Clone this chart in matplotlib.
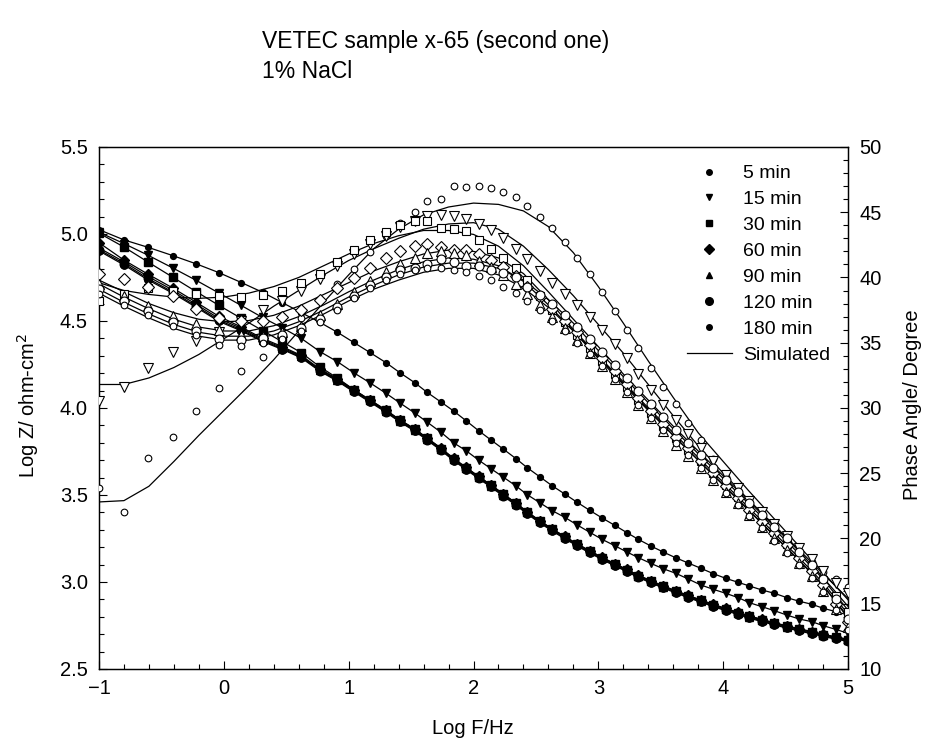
import matplotlib
matplotlib.use("Agg")
import matplotlib.pyplot as plt
from matplotlib.lines import Line2D
from matplotlib.ticker import MultipleLocator

plt.rcParams['font.family'] = ['Liberation Sans', 'DejaVu Sans']

# measured frequencies (log F / Hz), same for every run
logf = [-1.0, -0.80, -0.61, -0.41, -0.22, -0.04, 0.14, 0.31, 0.47, 0.62,
        0.77, 0.91, 1.04, 1.17, 1.30, 1.41, 1.53, 1.63, 1.74, 1.84,
        1.94, 2.04, 2.14, 2.24, 2.34, 2.43, 2.53, 2.63, 2.73, 2.83,
        2.93, 3.03, 3.13, 3.23, 3.32, 3.42, 3.52, 3.62, 3.72, 3.82,
        3.92, 4.02, 4.12, 4.21, 4.31, 4.41, 4.51, 4.61, 4.71, 4.80,
        4.90, 5.0]

labels = ['5 min', '15 min', '30 min', '60 min', '90 min', '120 min', '180 min']

# log |Z| (ohm-cm2)
z_5 = [5.025, 4.966, 4.924, 4.876, 4.828, 4.778, 4.721, 4.665, 4.605, 4.548,
       4.492, 4.435, 4.377, 4.319, 4.26, 4.203, 4.145, 4.089, 4.034, 3.983,
       3.927, 3.87, 3.816, 3.763, 3.709, 3.657, 3.605, 3.553, 3.506, 3.458,
       3.412, 3.368, 3.326, 3.283, 3.245, 3.207, 3.172, 3.139, 3.109, 3.079,
       3.048, 3.021, 2.998, 2.977, 2.954, 2.935, 2.910, 2.889, 2.872, 2.849,
       2.83, 2.81]
z_15 = [5.01, 4.945, 4.879, 4.805, 4.733, 4.661, 4.589, 4.52, 4.46, 4.40,
        4.324, 4.266, 4.203, 4.145, 4.084, 4.029, 3.971, 3.918, 3.86, 3.80,
        3.755, 3.701, 3.651, 3.602, 3.552, 3.502, 3.456, 3.41, 3.372, 3.328,
        3.286, 3.245, 3.209, 3.172, 3.14, 3.107, 3.076, 3.05, 3.017, 2.983,
        2.958, 2.935, 2.91, 2.881, 2.858, 2.835, 2.81, 2.787, 2.772, 2.749,
        2.728, 2.705]
z_30 = [5.005, 4.925, 4.84, 4.752, 4.668, 4.59, 4.515, 4.445, 4.38, 4.318,
        4.236, 4.172, 4.106, 4.045, 3.986, 3.930, 3.878, 3.825, 3.767, 3.709,
        3.657, 3.606, 3.556, 3.504, 3.452, 3.402, 3.351, 3.304, 3.260, 3.218,
        3.178, 3.140, 3.104, 3.070, 3.037, 3.006, 2.976, 2.948, 2.921, 2.895,
        2.870, 2.846, 2.824, 2.803, 2.783, 2.764, 2.746, 2.729, 2.713, 2.698,
        2.683, 2.669]
z_60 = [4.95, 4.85, 4.77, 4.69, 4.607, 4.527, 4.465, 4.40, 4.352, 4.302,
        4.224, 4.167, 4.106, 4.047, 3.988, 3.932, 3.880, 3.827, 3.769, 3.711,
        3.659, 3.608, 3.558, 3.506, 3.454, 3.404, 3.353, 3.306, 3.262, 3.220,
        3.180, 3.142, 3.106, 3.072, 3.039, 3.008, 2.978, 2.950, 2.923, 2.897,
        2.872, 2.848, 2.826, 2.805, 2.785, 2.766, 2.748, 2.731, 2.715, 2.700,
        2.685, 2.671]
z_90 = [4.92, 4.84, 4.757, 4.678, 4.595, 4.515, 4.457, 4.393, 4.346, 4.297,
        4.220, 4.163, 4.102, 4.043, 3.984, 3.928, 3.876, 3.823, 3.765, 3.707,
        3.655, 3.604, 3.554, 3.502, 3.450, 3.400, 3.349, 3.302, 3.258, 3.216,
        3.176, 3.138, 3.102, 3.068, 3.035, 3.004, 2.974, 2.946, 2.919, 2.893,
        2.868, 2.844, 2.822, 2.801, 2.781, 2.762, 2.744, 2.727, 2.711, 2.696,
        2.681, 2.667]
z_120 = [4.91, 4.83, 4.745, 4.667, 4.585, 4.505, 4.449, 4.387, 4.34, 4.292,
         4.215, 4.158, 4.097, 4.038, 3.979, 3.923, 3.871, 3.818, 3.760, 3.702,
         3.650, 3.599, 3.549, 3.497, 3.445, 3.395, 3.344, 3.297, 3.253, 3.211,
         3.171, 3.133, 3.097, 3.063, 3.030, 2.999, 2.969, 2.941, 2.914, 2.888,
         2.863, 2.839, 2.817, 2.796, 2.776, 2.757, 2.739, 2.722, 2.706, 2.691,
         2.676, 2.662]
z_180 = [4.903, 4.822, 4.737, 4.66, 4.578, 4.498, 4.443, 4.382, 4.336, 4.288,
         4.211, 4.154, 4.093, 4.034, 3.975, 3.919, 3.867, 3.814, 3.756, 3.698,
         3.646, 3.595, 3.545, 3.493, 3.441, 3.391, 3.340, 3.293, 3.249, 3.207,
         3.167, 3.129, 3.093, 3.059, 3.026, 2.995, 2.965, 2.937, 2.910, 2.884,
         2.859, 2.835, 2.813, 2.792, 2.772, 2.753, 2.735, 2.718, 2.702, 2.687,
         2.672, 2.658]

# phase angle (degree)
ph_5 = [23.9, 22.0, 26.15, 27.76, 29.77, 31.56, 32.86, 33.93, 35.4, 36.9,
        38.2, 39.5, 40.63, 41.98, 43.2, 44.2, 45.04, 45.89, 45.99, 47.01,
        46.91, 47.04, 46.86, 46.58, 46.19, 45.48, 44.66, 43.77, 42.72, 41.47,
        40.24, 38.86, 37.46, 35.98, 34.57, 33.08, 31.58, 30.28, 28.87, 27.55,
        26.07, 24.72, 23.48, 22.4, 21.4, 20.5, 19.7, 18.9, 18.2, 17.46,
        16.9, 16.3]
ph_15 = [30.5, 31.6, 33.1, 34.3, 35.1, 35.8, 36.7, 37.5, 38.2, 39.0,
         39.9, 40.9, 41.8, 42.6, 43.2, 43.9, 44.3, 44.7, 44.8, 44.7,
         44.5, 44.1, 43.6, 43.0, 42.2, 41.4, 40.5, 39.6, 38.7, 37.9,
         37.0, 36.0, 34.9, 33.8, 32.6, 31.4, 30.2, 29.1, 28.0, 26.9,
         25.9, 24.9, 23.9, 22.9, 22.0, 21.1, 20.2, 19.3, 18.4, 17.5,
         16.6, 15.8]
ph_30 = [38.2, 38.75, 39.2, 39.0, 38.75, 38.55, 38.5, 38.66, 39.0, 39.55,
         40.3, 41.2, 42.1, 42.9, 43.5, 44.0, 44.35, 44.3, 43.8, 43.7,
         43.55, 42.9, 42.2, 41.5, 40.7, 39.8, 38.6, 37.5, 36.6, 35.6,
         34.6, 33.6, 32.6, 31.6, 30.6, 29.6, 28.6, 27.7, 26.8, 25.9,
         25.0, 24.1, 23.2, 22.3, 21.4, 20.5, 19.6, 18.7, 17.8, 16.8,
         15.6, 14.4]
ph_60 = [40.3, 39.9, 39.3, 38.6, 37.6, 36.9, 36.7, 36.7, 37.0, 37.5,
         38.3, 39.2, 39.95, 40.7, 41.5, 42.0, 42.45, 42.55, 42.3, 42.1,
         42.1, 41.8, 41.35, 40.8, 40.1, 39.3, 38.5, 37.6, 36.7, 35.8,
         34.8, 33.8, 32.8, 31.8, 30.8, 29.8, 28.8, 27.8, 26.9, 25.9,
         25.0, 24.0, 23.1, 22.2, 21.3, 20.4, 19.5, 18.5, 17.5, 16.4,
         15.0, 13.6]
ph_90 = [39.5, 38.6, 37.85, 37.05, 36.4, 35.95, 35.6, 35.5, 35.8, 36.3,
         37.1, 38.0, 38.9, 39.7, 40.4, 41.0, 41.5, 41.9, 42.0, 41.9,
         41.7, 41.3, 40.8, 40.2, 39.5, 38.7, 37.9, 37.0, 36.1, 35.2,
         34.2, 33.2, 32.2, 31.2, 30.2, 29.2, 28.2, 27.2, 26.3, 25.4,
         24.5, 23.6, 22.7, 21.8, 20.9, 20.0, 19.1, 18.1, 17.1, 16.0,
         14.6, 13.2]
ph_120 = [39.1, 38.2, 37.4, 36.6, 35.9, 35.3, 35.2, 35.4, 35.6, 36.1,
          36.8, 37.7, 38.6, 39.4, 40.0, 40.55, 40.7, 41.0, 41.4, 41.2,
          40.85, 40.85, 40.55, 40.35, 40.0, 39.3, 38.65, 37.95, 37.1, 36.2,
          35.3, 34.3, 33.3, 32.3, 31.3, 30.3, 29.3, 28.3, 27.3, 26.4,
          25.4, 24.5, 23.6, 22.7, 21.8, 20.9, 20.0, 19.0, 18.0, 16.9,
          15.4, 13.8]
ph_180 = [38.7, 37.9, 37.1, 36.3, 35.6, 34.85, 34.75, 35.0, 35.3, 35.9,
          36.6, 37.5, 38.4, 39.2, 39.8, 40.3, 40.6, 40.7, 40.7, 40.6,
          40.4, 40.1, 39.8, 39.3, 38.8, 38.2, 37.5, 36.7, 35.9, 35.0,
          34.1, 33.2, 32.2, 31.2, 30.2, 29.2, 28.3, 27.3, 26.4, 25.4,
          24.5, 23.5, 22.6, 21.7, 20.8, 19.8, 18.9, 18.0, 17.0, 15.9,
          14.5, 13.0]

# simulated phase curves
sim_f = [-1.0, -0.8, -0.6, -0.4, -0.2, 0.0, 0.2, 0.4, 0.6, 0.8,
         1.0, 1.2, 1.4, 1.6, 1.8, 2.0, 2.2, 2.4, 2.6, 2.8,
         3.0, 3.2, 3.4, 3.6, 3.8, 4.0, 4.2, 4.4, 4.6, 4.8, 5.0]
sim_5 = [22.8, 22.9, 24.0, 25.9, 27.9, 29.8, 31.7, 33.7, 35.9, 38.1,
         40.2, 42.2, 43.7, 44.8, 45.4, 45.7, 45.6, 45.1, 43.9, 41.9,
         39.3, 36.5, 33.6, 30.8, 28.1, 25.9, 23.7, 21.6, 19.5, 17.4, 15.3]
sim_15 = [31.8, 31.8, 32.3, 33.1, 34.1, 35.3, 36.5, 37.8, 39.0, 40.2,
          41.3, 42.2, 43.0, 43.7, 44.1, 44.2, 43.7, 42.4, 40.6, 38.6,
          36.4, 34.2, 31.8, 29.4, 27.1, 25.0, 23.0, 21.1, 19.2, 17.3, 15.4]
sim_30 = [39.6, 39.0, 38.7, 38.5, 38.4, 38.5, 38.8, 39.3, 40.0, 40.9,
          41.8, 42.6, 43.2, 43.6, 43.6, 43.3, 42.4, 40.9, 38.9, 36.8,
          34.7, 32.6, 30.6, 28.6, 26.7, 24.8, 22.9, 21.0, 19.1, 17.0, 14.8]
sim_60 = [39.8, 38.9, 38.0, 37.3, 36.8, 36.6, 36.7, 37.1, 37.8, 38.7,
          39.6, 40.5, 41.2, 41.8, 42.1, 42.0, 41.5, 40.3, 38.3, 36.0,
          34.0, 32.0, 30.0, 28.1, 26.2, 24.3, 22.4, 20.5, 18.6, 16.6, 14.2]
sim_90 = [39.5, 38.5, 37.6, 36.8, 36.2, 35.9, 35.9, 36.3, 37.0, 37.9,
          38.9, 39.8, 40.6, 41.2, 41.5, 41.4, 40.9, 39.7, 37.9, 35.9,
          33.8, 31.8, 29.8, 27.9, 26.0, 24.1, 22.2, 20.3, 18.4, 16.4, 14.0]
sim_120 = [39.1, 38.1, 37.2, 36.4, 35.8, 35.5, 35.5, 35.9, 36.6, 37.5,
           38.5, 39.4, 40.2, 40.8, 41.1, 41.1, 40.7, 39.8, 38.3, 36.5,
           34.4, 32.4, 30.4, 28.4, 26.5, 24.6, 22.7, 20.8, 18.9, 16.9, 14.5]
sim_180 = [38.8, 37.8, 36.9, 36.1, 35.5, 35.2, 35.2, 35.6, 36.3, 37.2,
           38.2, 39.1, 39.8, 40.4, 40.7, 40.7, 40.2, 39.2, 37.7, 35.9,
           33.9, 31.9, 29.9, 27.9, 26.0, 24.1, 22.2, 20.3, 18.4, 16.4, 13.9]

z_all = [z_5, z_15, z_30, z_60, z_90, z_120, z_180]
ph_all = [ph_5, ph_15, ph_30, ph_60, ph_90, ph_120, ph_180]
sim_all = [sim_5, sim_15, sim_30, sim_60, sim_90, sim_120, sim_180]

# marker style per run: (marker, size for |Z|, size for phase, legend size)
styles = [('o', 4.2, 4.8, 4.0), ('v', 6.2, 6.8, 5.0), ('s', 5.2, 6.2, 4.5),
          ('D', 4.8, 5.8, 4.6), ('^', 6.2, 6.8, 5.0), ('o', 6.2, 6.4, 5.5),
          ('o', 5.2, 4.8, 4.0)]

fig = plt.figure(figsize=(9.31, 7.51), dpi=100)
ax = fig.add_axes([0.1063, 0.1092, 0.8046, 0.6951])
ax2 = ax.twinx()

for z, ph, sim, st in zip(z_all, ph_all, sim_all, styles):
    m, ms_z, ms_p, _ = st
    ax.plot(logf, z, '-', color='black', lw=0.9, zorder=2)
    ax.plot(logf, z, linestyle='none', marker=m, ms=ms_z, color='black',
            mec='black', mfc='black', zorder=3)
    ax2.plot(sim_f, sim, '-', color='black', lw=0.9, zorder=2)
    ax2.plot(logf, ph, linestyle='none', marker=m, ms=ms_p, mfc='white',
             mec='black', mew=0.8, zorder=3)

ax.set_xlim(-1, 5)
ax.set_ylim(2.5, 5.5)
ax2.set_ylim(10, 50)

ax.xaxis.set_major_locator(MultipleLocator(1))
ax.xaxis.set_minor_locator(MultipleLocator(0.2))
ax.yaxis.set_major_locator(MultipleLocator(0.5))
ax.yaxis.set_minor_locator(MultipleLocator(0.1))
ax2.yaxis.set_major_locator(MultipleLocator(5))
ax2.yaxis.set_minor_locator(MultipleLocator(1))
ax.yaxis.set_major_formatter(plt.FormatStrFormatter('%.1f'))

ax.tick_params(which='both', direction='in', top=False, right=False,
               labelsize=14.5, width=0.8)
ax.tick_params(which='major', length=6)
ax.tick_params(which='minor', length=3.5)
ax.tick_params(axis='y', pad=8)
ax.tick_params(axis='x', pad=7)
ax2.tick_params(which='both', direction='in', labelsize=14.5, width=0.8, pad=8)
ax2.tick_params(which='major', length=6)
ax2.tick_params(which='minor', length=3.5)
for sp in list(ax.spines.values()) + list(ax2.spines.values()):
    sp.set_linewidth(0.9)

# legend
handles = [Line2D([], [], linestyle='none', marker=st[0], ms=st[3],
                  color='black') for st in styles]
handles.append(Line2D([], [], color='black', lw=0.9))
ax2.legend(handles, labels + ['Simulated'], loc='upper left',
           bbox_to_anchor=(0.785, 0.966), frameon=False, fontsize=14,
           handlelength=2.3, handletextpad=0.6, labelspacing=0.43,
           borderpad=0, borderaxespad=0)

fig.text(262 / 931, 1 - 48 / 751, 'VETEC sample x-65 (second one)',
         fontsize=16.5, va='baseline', ha='left')
fig.text(262 / 931, 1 - 78 / 751, '1% NaCl', fontsize=16.5, va='baseline',
         ha='left')
fig.text(473 / 931, 1 - 728 / 751, 'Log F/Hz', fontsize=14.5,
         ha='center', va='center')
fig.text(28 / 931, 1 - 405 / 751, 'Log Z/ ohm-cm$^2$', fontsize=14.5,
         rotation=90, ha='center', va='center')
fig.text(912 / 931, 1 - 405 / 751, 'Phase Angle/ Degree', fontsize=14.5,
         rotation=90, ha='center', va='center')

fig.savefig('out.png', dpi=100)
